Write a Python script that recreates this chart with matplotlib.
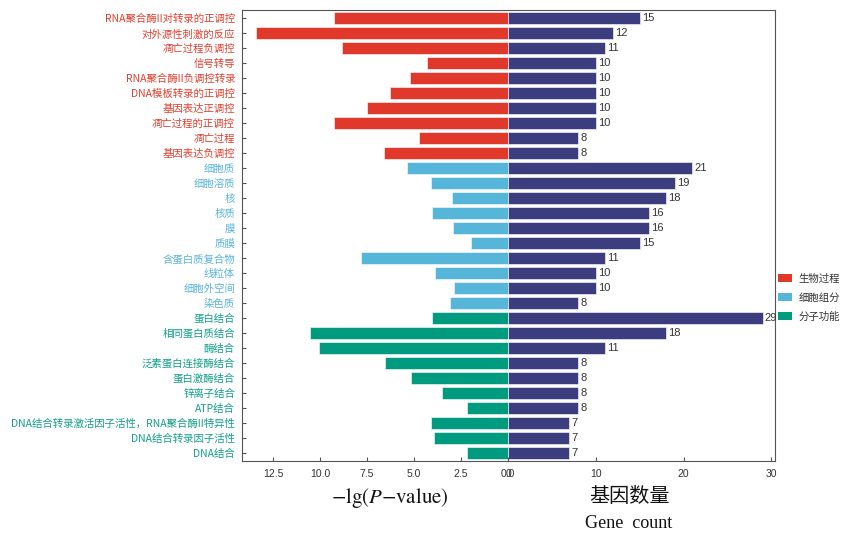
import matplotlib
matplotlib.use("Agg")
import matplotlib.pyplot as plt
from matplotlib.patches import Patch
import numpy as np

plt.rcParams['font.family'] = ['Noto Sans CJK SC', 'DejaVu Sans']
plt.rcParams['mathtext.fontset'] = 'stix'

terms = [
    "RNA聚合酶II对转录的正调控", "对外源性刺激的反应", "凋亡过程负调控", "信号转导",
    "RNA聚合酶II负调控转录", "DNA模板转录的正调控", "基因表达正调控", "凋亡过程的正调控",
    "凋亡过程", "基因表达负调控",
    "细胞质", "细胞溶质", "核", "核质", "膜", "质膜", "含蛋白质复合物", "线粒体",
    "细胞外空间", "染色质",
    "蛋白结合", "相同蛋白质结合", "酶结合", "泛素蛋白连接酶结合", "蛋白激酶结合",
    "锌离子结合", "ATP结合", "DNA结合转录激活因子活性，RNA聚合酶II特异性",
    "DNA结合转录因子活性", "DNA结合",
]
categories = ["生物过程"] * 10 + ["细胞组分"] * 10 + ["分子功能"] * 10
neg_log_p = [9.26, 13.42, 8.82, 4.32, 5.20, 6.26, 7.50, 9.26, 4.72, 6.59,
             5.38, 4.08, 2.97, 4.03, 2.91, 1.96, 7.82, 3.90, 2.89, 3.07,
             4.03, 10.54, 10.05, 6.52, 5.14, 3.53, 2.18, 4.12, 3.92, 2.18]
gene_count = [15, 12, 11, 10, 10, 10, 10, 10, 8, 8,
              21, 19, 18, 16, 16, 15, 11, 10, 10, 8,
              29, 18, 11, 8, 8, 8, 8, 7, 7, 7]
legend_labels = ["生物过程", "细胞组分", "分子功能"]
left_ticks = [0, 2.5, 5.0, 7.5, 10.0, 12.5]
right_ticks = [0, 10, 20, 30]

cat_colors = {"生物过程": "#E0392C", "细胞组分": "#55B6DA", "分子功能": "#009B7E"}
label_colors = {"生物过程": "#E2402F", "细胞组分": "#5AB4DC", "分子功能": "#12A08A"}
count_color = "#3C3D7E"
num_font = ['Liberation Sans', 'DejaVu Sans']

fig = plt.figure(figsize=(8.44, 5.34), dpi=100)
H = 534.0
W = 844.0
bottom = 1 - 461 / H
top = 1 - 10 / H
axL = fig.add_axes([242 / W, bottom, (508 - 242) / W, top - bottom])
axR = fig.add_axes([508 / W, bottom, (775 - 508) / W, top - bottom])

y = np.arange(len(terms))
colors = [cat_colors[c] for c in categories]
axL.barh(y, neg_log_p, height=0.78, color=colors, edgecolor='white', linewidth=0.4)
axR.barh(y, gene_count, height=0.78, color=count_color, edgecolor='white', linewidth=0.4)

axL.set_xlim(14.15, 0)
axR.set_xlim(0, 30.4)
for ax in (axL, axR):
    ax.set_ylim(len(terms) - 0.45, -0.55)
    for s in ax.spines.values():
        s.set_color('#555555')
        s.set_linewidth(0.8)
axL.spines['right'].set_visible(False)
axR.spines['left'].set_visible(False)

axL.set_yticks(y)
axL.set_yticklabels(terms, fontsize=7.5)
for lbl, c in zip(axL.get_yticklabels(), categories):
    lbl.set_color(label_colors[c])
axL.tick_params(axis='y', direction='in', length=3, pad=5, color='#555555')
axR.set_yticks([])

axL.set_xticks(left_ticks)
axL.set_xticklabels([f"{t:.1f}" for t in left_ticks])
axR.set_xticks(right_ticks)
for ax in (axL, axR):
    ax.tick_params(axis='x', direction='in', length=3, labelsize=7.5,
                   labelcolor='#333333', color='#555555', pad=6)
    for lbl in ax.get_xticklabels():
        lbl.set_family(num_font)

for yi, v in zip(y, gene_count):
    axR.text(v + 0.25, yi, str(v), va='center', ha='left', fontsize=8, color='#333333',
             family=num_font)

fig.text(390 / W, 1 - 498 / H, r"$\mathrm{-lg(}P\mathrm{-value)}$", ha='center', va='center',
         fontsize=15, color='#111111')
fig.text(630 / W, 1 - 496 / H, "基因数量", ha='center', va='center', fontsize=14.5,
         color='#111111')
fig.text(629 / W, 1 - 523 / H, "Gene  count", ha='center', va='center', fontsize=13,
         family='Liberation Serif', color='#111111')

handles = [Patch(facecolor=cat_colors[c], edgecolor='none') for c in legend_labels]
fig.legend(handles, legend_labels, loc='center left', bbox_to_anchor=(778 / W, 1 - 298 / H),
           frameon=False, fontsize=7.5, handlelength=1.3, handleheight=0.8,
           handletextpad=0.7, labelspacing=0.85, borderpad=0, borderaxespad=0,
           labelcolor='#333333')

fig.savefig("out.png", dpi=100)
